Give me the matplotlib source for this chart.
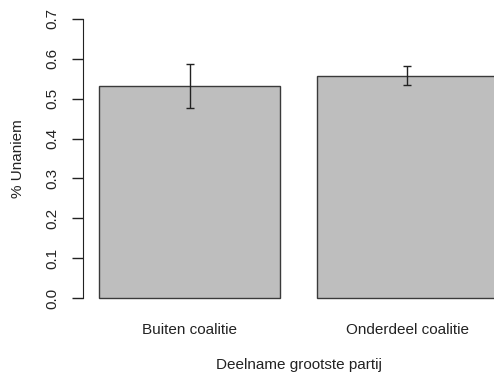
import matplotlib
matplotlib.use("Agg")
import matplotlib.pyplot as plt
import numpy as np

plt.rcParams['font.family'] = ['Liberation Sans', 'DejaVu Sans']

categories = ["Buiten coalitie", "Onderdeel coalitie"]
means = [0.531, 0.557]
err_low = [0.476, 0.535]
err_high = [0.586, 0.581]
yticks = [0.0, 0.1, 0.2, 0.3, 0.4, 0.5, 0.6, 0.7]

W, H = 494, 379
fig = plt.figure(figsize=(W / 100, H / 100), dpi=100)

# barplot-style layout: width 1, space 0.2, 4% padding on both axes
centers = np.array([0.7, 1.9])
xlo, xhi = 0.2, 2.4
xpad = (xhi - xlo) * 0.04
ypad = 0.7 * 0.04

# plot region in pixels (runs off the right edge)
left_px, right_px = 83.4, 513.5
top_px, bot_px = 7.8, 309.2
ax = fig.add_axes([left_px / W, 1 - bot_px / H,
                   (right_px - left_px) / W, (bot_px - top_px) / H])
ax.set_xlim(xlo - xpad, xhi + xpad)
ax.set_ylim(-ypad, 0.7 + ypad)

ax.bar(centers, means, width=1.0, color="#bebebe", edgecolor="#3a3a3a",
       linewidth=1.0, zorder=2)
yerr = [np.array(means) - np.array(err_low), np.array(err_high) - np.array(means)]
ax.errorbar(centers, means, yerr=yerr, fmt="none", ecolor="#222222",
            elinewidth=1.0, capsize=3, capthick=1.0, zorder=3)

for s in ["top", "right", "bottom"]:
    ax.spines[s].set_visible(False)
ax.spines["left"].set_bounds(0, 0.7)
ax.spines["left"].set_color("#222222")

ax.set_yticks(yticks)
ax.set_yticklabels(["%.1f" % v for v in yticks], rotation=90, va="center")
ax.tick_params(axis="y", length=8, width=1.0, pad=9, labelsize=11,
               color="#222222", labelcolor="#222222")
ax.set_xticks(centers)
ax.set_xticklabels(categories)
ax.tick_params(axis="x", length=0, pad=10, labelsize=11, labelcolor="#222222")

fig.text(((left_px + right_px) / 2) / W, 1 - 365 / H, "Deelname grootste partij",
         ha="center", va="center", fontsize=11, color="#222222")
fig.text(18 / W, 1 - ((top_px + bot_px) / 2) / H, "% Unaniem", rotation=90,
         ha="center", va="center", fontsize=11, color="#222222")

fig.savefig("out.png", dpi=100)
